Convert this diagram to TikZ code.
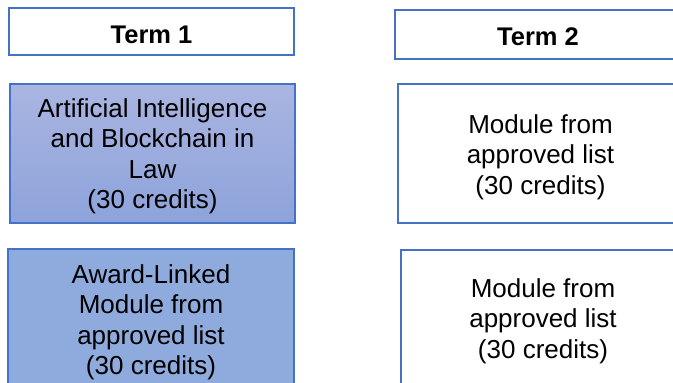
\documentclass[tikz,border=0pt]{standalone}
\usepackage{fontspec}
\setmainfont{Liberation Sans}
\definecolor{edge}{HTML}{4472C4}
\definecolor{topblue}{HTML}{AAB5E1}
\definecolor{botblue}{HTML}{8DA3DB}
\definecolor{midblue}{HTML}{8FAADC}
\begin{document}
\begin{tikzpicture}[x=1pt,y=-1pt,
  box/.style={draw=edge, line width=2pt, rectangle, inner sep=0pt},
  txt/.style={align=center, inner sep=0pt, font=\fontsize{26}{30.5}\selectfont},
  termtxt/.style={txt, font=\fontsize{25.5}{30}\selectfont\bfseries},
  plainbox/.style={box, fill=white},
  aibox/.style={box, top color=topblue, bottom color=botblue},
  awardbox/.style={box, fill=midblue}]
\useasboundingbox (0,0) rectangle (673,383);
\clip (0,0) rectangle (673,383);
\node[plainbox, minimum width=285pt, minimum height=47pt] (t1) at (151.5,31.5) {};
\node[termtxt] (t1txt) at ([yshift=-3.5pt]t1.center) {Term 1};
\node[plainbox, minimum width=286pt, minimum height=49pt] (t2) at (538,34.5) {};
\node[termtxt] (t2txt) at ([yshift=-2.5pt]t2.center) {Term 2};
\node[aibox, minimum width=285pt, minimum height=139pt] (ai) at (152.5,153.5) {};
\node[txt] (aitxt) at ([yshift=-3pt]ai.center) {Artificial Intelligence\\and Blockchain in\\Law\\(30 credits)};
\node[awardbox, minimum width=286pt, minimum height=146pt] (aw) at (151,322) {};
\node[txt] (awtxt) at ([yshift=-0.5pt]aw.center) {Award-Linked\\Module from\\approved list\\(30 credits)};
\node[plainbox, minimum width=285pt, minimum height=139pt] (m1) at (540.5,153.5) {};
\node[txt] (m1txt) at ([yshift=-3.5pt]m1.center) {Module from\\approved list\\(30 credits)};
\node[plainbox, minimum width=284pt, minimum height=136pt] (m2) at (543,318) {};
\node[txt] (m2txt) at ([yshift=-3pt]m2.center) {Module from\\approved list\\(30 credits)};
\end{tikzpicture}
\end{document}
